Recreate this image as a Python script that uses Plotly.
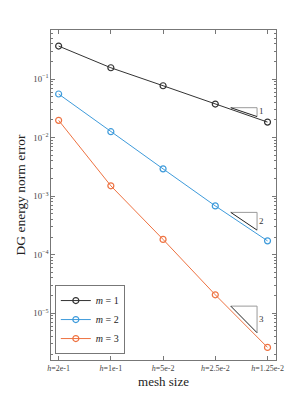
import plotly.graph_objects as go

h = [0.2, 0.1, 0.05, 0.025, 0.0125]
tick_labels = ["<i>h</i>=2e-1", "<i>h</i>=1e-1", "<i>h</i>=5e-2", "<i>h</i>=2.5e-2", "<i>h</i>=1.25e-2"]
err_m1 = [0.366, 0.156, 0.0769, 0.0374, 0.0184]
err_m2 = [0.0555, 0.0126, 0.00292, 0.00068, 0.000172]
err_m3 = [0.0197, 0.0015, 0.000182, 2.06e-5, 2.6e-6]
names = ["<i>m</i> = 1", "<i>m</i> = 2", "<i>m</i> = 3"]
colors = ["#333333", "#3E9BDB", "#EE7241"]

slopes = [1, 2, 3]
tri_x = [0.02036, 0.01436]
tri_top = [0.0324, 5.27e-4, 1.32e-5]

FONT = "Liberation Serif"
fig = go.Figure()
for ys, nm, c in zip([err_m1, err_m2, err_m3], names, colors):
    fig.add_trace(go.Scatter(
        x=h, y=ys, name=nm, mode="lines+markers",
        line=dict(color=c, width=1),
        marker=dict(symbol="circle-open", size=6, color=c, line=dict(width=1.2, color=c)),
    ))

for s, yt in zip(slopes, tri_top):
    x1, x2 = tri_x
    yb = yt * (x2 / x1) ** s
    fig.add_trace(go.Scatter(x=[x1, x2, x2], y=[yt, yt, yb], mode="lines",
                             line=dict(color="#9a9a9a", width=1), showlegend=False, hoverinfo="skip"))
    fig.add_trace(go.Scatter(x=[x1, x2], y=[yt, yb], mode="lines",
                             line=dict(color="#222222", width=1), showlegend=False, hoverinfo="skip"))
    fig.add_trace(go.Scatter(x=[x2 * 0.975], y=[(yt * yb) ** 0.5], mode="text", text=[str(s)],
                             textposition="middle right",
                             textfont=dict(family=FONT, size=9, color="#333"),
                             showlegend=False, hoverinfo="skip"))

axis_common = dict(
    showline=True, linecolor="#777", linewidth=1, mirror="ticks",
    ticks="inside", tickcolor="#777", ticklen=4, showgrid=False, zeroline=False,
)
fig.update_xaxes(type="log", range=[-0.655, -1.952], tickvals=h, ticktext=tick_labels,
                 tickfont=dict(family=FONT, size=8, color="#444"),
                 title=dict(text="mesh size", font=dict(family=FONT, size=13, color="#222"), standoff=5),
                 **axis_common)
fig.update_yaxes(type="log", range=[-5.80, -0.162], tickmode="linear", tick0=0, dtick=1,
                 exponentformat="power", showexponent="all",
                 tickfont=dict(family=FONT, size=7, color="#444"),
                 minor=dict(ticks="inside", ticklen=2, tickcolor="#777", dtick="D1"),
                 title=dict(text="DG energy norm error", font=dict(family=FONT, size=13.5, color="#222"), standoff=4),
                 **axis_common)

fig.update_layout(
    width=305, height=406, autosize=False,
    margin=dict(l=31, r=37, t=22, b=54),
    plot_bgcolor="white", paper_bgcolor="white",
    showlegend=True,
    legend=dict(x=0.017, y=0.018, xanchor="left", yanchor="bottom",
                bordercolor="#777", borderwidth=1, bgcolor="white",
                font=dict(family=FONT, size=10, color="#222"),
                itemwidth=30, tracegroupgap=0),
    font=dict(family=FONT),
)
fig.write_html("out.html")
